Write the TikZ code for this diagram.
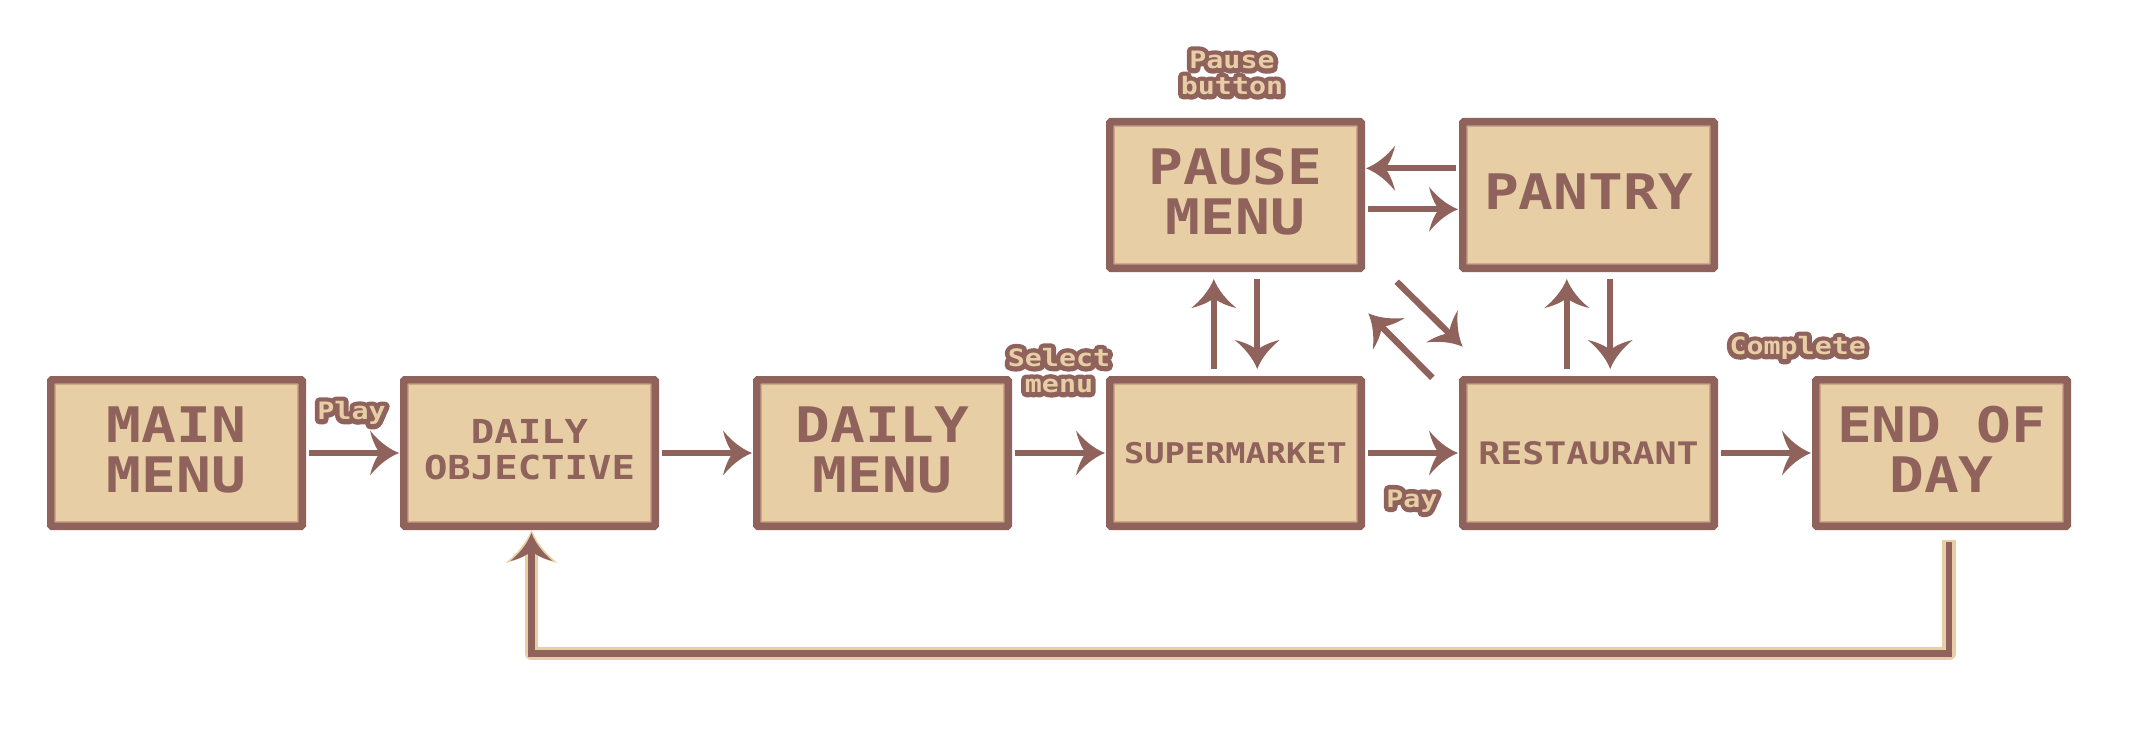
\documentclass[tikz,border=0pt]{standalone}
\usepackage{fontspec}
\usetikzlibrary{arrows.meta,calc}
\newfontfamily\pixfont{DejaVu Sans Mono}[FakeStretch=1.18]
\definecolor{brn}{RGB}{143,98,92}
\definecolor{sand}{RGB}{232,206,165}
\definecolor{edgeline}{RGB}{207,168,140}
\newcommand\bigtxt{\pixfont\bfseries\fontsize{24.5pt}{25pt}\selectfont}
\newcommand\objtxt{\pixfont\bfseries\fontsize{16.5pt}{18.2pt}\selectfont}
\newcommand\suptxt{\pixfont\bfseries\fontsize{14.25pt}{16pt}\selectfont}
\newcommand\restxt{\pixfont\bfseries\fontsize{15.5pt}{16pt}\selectfont}
\newcommand\lblfont{\pixfont\bfseries\fontsize{12pt}{13pt}\selectfont}
\newcommand\lowerby[1]{\rule[-#1]{0pt}{#1}}
% outlined label text: a stroked brown copy under the sand text
\newcommand\outl[1]{\rlap{\color{brn}\special{pdf:literal direct 1 j 4.8 w 2 Tr}#1\special{pdf:literal direct 0 Tr 1 w 0 j}}#1}

\pgfdeclarearrow{
  name = Curvy,
  defaults = {length = 14pt, width = 21pt, inset = 5pt},
  parameters = {\the\pgfarrowlength,\the\pgfarrowwidth,\the\pgfarrowinset},
  setup code = {
    \pgfarrowssettipend{0pt}
    \pgfarrowssetbackend{-\pgfarrowlength}
    \pgfarrowssetlineend{-0.5\pgfarrowlength}
    \pgfarrowshullpoint{0pt}{0pt}
    \pgfarrowsupperhullpoint{-\pgfarrowlength}{0.5\pgfarrowwidth}
    \pgfarrowssavethe\pgfarrowlength
    \pgfarrowssavethe\pgfarrowwidth
    \pgfarrowssavethe\pgfarrowinset
  },
  drawing code = {
    \pgfpathmoveto{\pgfqpoint{0pt}{0pt}}
    \pgfpathcurveto
      {\pgfpoint{-0.4\pgfarrowlength}{0.1\pgfarrowwidth}}
      {\pgfpoint{-0.75\pgfarrowlength}{0.3\pgfarrowwidth}}
      {\pgfpoint{-\pgfarrowlength}{0.5\pgfarrowwidth}}
    \pgfpathcurveto
      {\pgfpoint{-\pgfarrowlength+0.2\pgfarrowinset}{0.3\pgfarrowwidth}}
      {\pgfpoint{-\pgfarrowlength+0.6\pgfarrowinset}{0.1\pgfarrowwidth}}
      {\pgfpoint{-\pgfarrowlength+\pgfarrowinset}{0pt}}
    \pgfpathcurveto
      {\pgfpoint{-\pgfarrowlength+0.6\pgfarrowinset}{-0.1\pgfarrowwidth}}
      {\pgfpoint{-\pgfarrowlength+0.2\pgfarrowinset}{-0.3\pgfarrowwidth}}
      {\pgfpoint{-\pgfarrowlength}{-0.5\pgfarrowwidth}}
    \pgfpathcurveto
      {\pgfpoint{-0.75\pgfarrowlength}{-0.3\pgfarrowwidth}}
      {\pgfpoint{-0.4\pgfarrowlength}{-0.1\pgfarrowwidth}}
      {\pgfqpoint{0pt}{0pt}}
    \pgfpathclose
    \pgfusepathqfill
  }
}

\begin{document}
\begin{tikzpicture}[x=0.5pt,y=-0.5pt,
  box/.style={draw=brn, fill=sand, line width=3.85pt,
    minimum width=125.65pt, minimum height=73.15pt,
    inner sep=0pt, outer sep=1.925pt, rounded corners=0.6pt,
    align=center, text=brn,
    path picture={\draw[edgeline, line width=0.7pt, sharp corners]
      ([shift={(2.3pt,-2.3pt)}]path picture bounding box.north west) rectangle
      ([shift={(-2.3pt,2.3pt)}]path picture bounding box.south east);}},
  flow/.style={draw=brn, line width=3.15pt,
    -{Curvy[length=14.5pt,width=22.5pt,inset=5pt]},
    shorten <=1.5pt, shorten >=0.5pt},
  vflow/.style={flow, shorten <=3.5pt, shorten >=3.5pt},
  dflow/.style={flow, shorten <=0pt, shorten >=0pt},
  lbl/.style={text=sand, font=\lblfont, align=center, inner sep=0pt},
]
\fill[white] (0,0) rectangle (2140,738);
\useasboundingbox (0,0) rectangle (2140,738);

% boxes
\node[box,font=\bigtxt] (main)   at (176.5,453)  {MAIN\\MENU\lowerby{3.8pt}};
\node[box,font=\objtxt] (dobj)   at (529.5,453)  {DAILY\\OBJECTIVE\lowerby{3.3pt}};
\node[box,font=\bigtxt] (dmenu)  at (882.5,453)  {DAILY\\MENU\lowerby{3.7pt}};
\node[box,font=\suptxt] (super)  at (1235.5,453) {SUPERMARKET};
\node[box,font=\restxt] (rest)   at (1588.5,453) {RESTAURANT};
\node[box,font=\bigtxt] (eod)    at (1941.5,453) {END OF\\DAY\lowerby{3.6pt}};
\node[box,font=\bigtxt] (pause)  at (1235.5,195) {PAUSE\\MENU\lowerby{3.7pt}};
\node[box,font=\bigtxt] (pantry) at (1588.5,195) {PANTRY\lowerby{3pt}};

% row arrows
\draw[flow] (main.east) -- (dobj.west);
\draw[flow] (dobj.east) -- (dmenu.west);
\draw[flow] (dmenu.east) -- (super.west);
\draw[flow] (super.east) -- (rest.west);
\draw[flow] (rest.east) -- (eod.west);

% pause <-> pantry
\draw[flow] ([yshift=13.35pt]pantry.west) -- ([yshift=13.35pt]pause.east);
\draw[flow] ([yshift=-7.15pt]pause.east) -- ([yshift=-7.15pt]pantry.west);

% vertical arrows
\draw[vflow] ([xshift=-10.85pt]super.north) -- ([xshift=-10.85pt]pause.south);
\draw[vflow] ([xshift=10.85pt]pause.south) -- ([xshift=10.85pt]super.north);
\draw[vflow] ([xshift=-10.85pt]rest.north) -- ([xshift=-10.85pt]pantry.south);
\draw[vflow] ([xshift=10.85pt]pantry.south) -- ([xshift=10.85pt]rest.north);

% diagonals
\coordinate (d1s) at ($(pause.south east)+(31.7,9.7)$);
\coordinate (d1e) at ($(rest.north west)+(3.7,-29.3)$);
\coordinate (d2s) at ($(rest.north west)+(-26.7,1.7)$);
\coordinate (d2e) at ($(pause.south east)+(3.3,41.3)$);
\draw[dflow] (d1s) -- (d1e);
\draw[dflow] (d2s) -- (d2e);

% loop back
\coordinate (lA) at ($(eod.south)+(7.5,12)$);
\coordinate (lB) at ($(dobj.south)+(2,0)$);
\draw[sand, line width=6.8pt, line join=round, shorten <=-1.2pt,
  -{Curvy[length=16.5pt,width=26pt,inset=6pt]}] (lA) -- ++(0,111.5) -| (lB);
\draw[brn, line width=3.3pt, shorten >=1.5pt,
  -{Curvy[length=14pt,width=21pt,inset=5pt]}] (lA) -- ++(0,111.5) -| (lB);

% labels
\node[lbl] (lplay)  at (351.5,413)  {\outl{Play}};
\node[lbl] (lsel)   at (1059,370.5) {\outl{Select}\\\outl{menu}};
\node[lbl] (lpay)   at (1412,501)   {\outl{Pay}};
\node[lbl] (lcomp)  at (1797.7,348) {\outl{Complete}};
\node[lbl] (lpause) at (1232,73)    {\outl{Pause}\\\outl{button}};
\end{tikzpicture}
\end{document}
